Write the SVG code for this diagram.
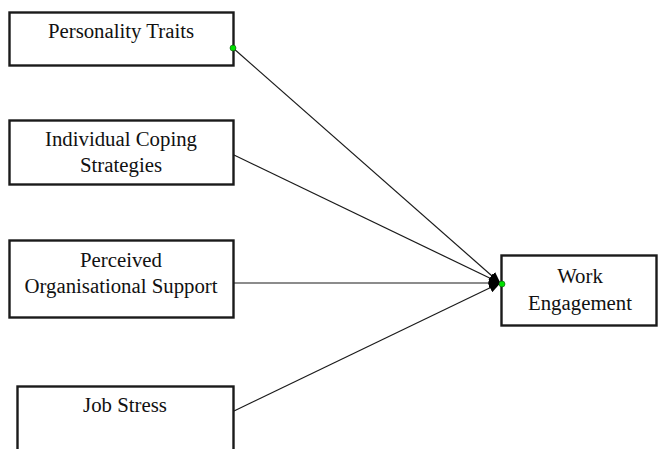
<svg xmlns="http://www.w3.org/2000/svg" width="658" height="449" viewBox="0 0 658 449">
<defs>
<marker id="arr" markerWidth="12" markerHeight="10" refX="11" refY="5" orient="auto" markerUnits="userSpaceOnUse">
<path d="M0,0 L12,5 L0,10 z" fill="#000"/>
</marker>
<style>
.box{fill:#fff;stroke:#1a1a1a;stroke-width:2.4}
.t{font-family:'Liberation Serif','DejaVu Serif',serif;font-size:20.8px;fill:#111;text-anchor:middle}
.c{stroke:#1a1a1a;stroke-width:1.2;fill:none;marker-end:url(#arr)}
.dot{fill:#00e000;stroke:#105010;stroke-width:0.6}
</style>
</defs>
<rect width="658" height="449" fill="#fff"/>
<g id="n1">
<rect class="box" x="9.5" y="12.5" width="224" height="53"/>
<text class="t" x="121" y="38">Personality Traits</text>
</g>
<g id="n2">
<rect class="box" x="9.5" y="120.5" width="224" height="64"/>
<text class="t" x="121" y="146">Individual Coping</text>
<text class="t" x="121" y="172">Strategies</text>
</g>
<g id="n3">
<rect class="box" x="9.5" y="240.5" width="224" height="77"/>
<text class="t" x="121" y="267">Perceived</text>
<text class="t" x="121" y="293">Organisational Support</text>
</g>
<g id="n4">
<rect class="box" x="17.5" y="386.5" width="216" height="80"/>
<text class="t" x="125" y="412">Job Stress</text>
</g>
<g id="n5">
<rect class="box" x="501.5" y="255.5" width="155" height="70"/>
<text class="t" x="580" y="283">Work</text>
<text class="t" x="580" y="310">Engagement</text>
</g>
<g id="connectors">
<line class="c" x1="233" y1="48" x2="500" y2="283"/>
<line class="c" x1="234" y1="155" x2="500" y2="283"/>
<line class="c" x1="234" y1="283" x2="500" y2="283"/>
<line class="c" x1="234" y1="411" x2="500" y2="283"/>
<circle class="dot" cx="233" cy="48" r="3"/>
<circle class="dot" cx="502" cy="284" r="3"/>
</g>
</svg>
